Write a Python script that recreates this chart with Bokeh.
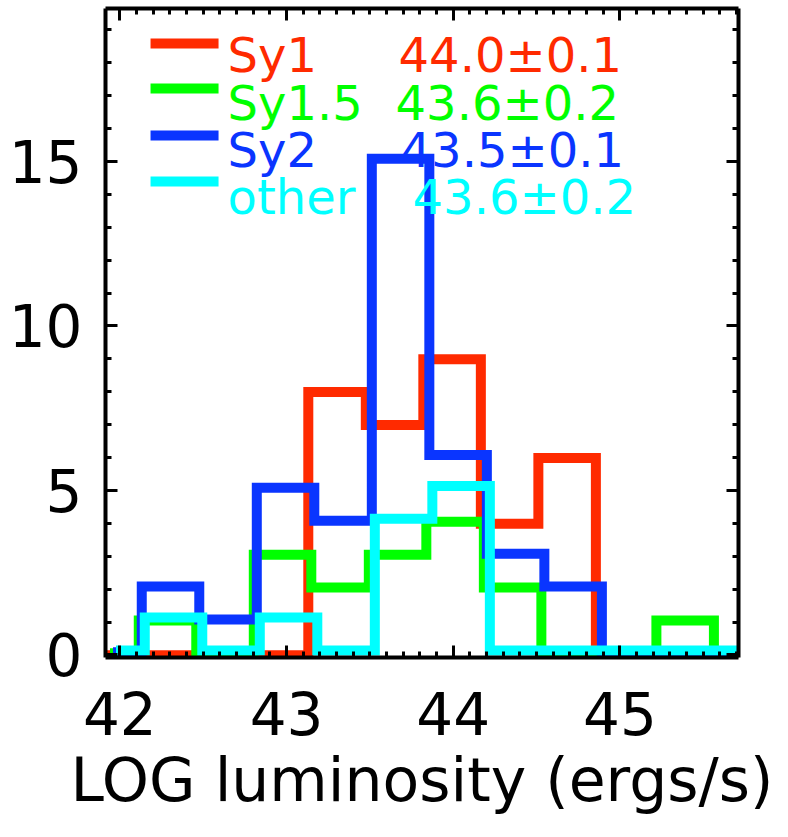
import numpy as np
from bokeh.plotting import figure
from bokeh.models import LinearAxis, FixedTicker, Range1d
from bokeh.core.properties import value
from bokeh.embed import file_html
from bokeh.resources import INLINE

# ---- data ----
bin_centers = [41.95, 42.295, 42.64, 42.985, 43.33, 43.675, 44.02, 44.365, 44.71, 45.055, 45.40, 45.745]
sy1_counts   = [0, 0, 0, 0, 8, 7, 9, 4, 6, 0, 0, 0]
sy15_counts  = [0, 1, 0, 3, 2, 3, 4, 2, 0, 0, 1, 0]
sy2_counts   = [0, 2, 1, 5, 4, 15, 6, 3, 2, 0, 0, 0]
other_counts = [0, 1, 0, 1, 0, 4, 5, 0, 0, 0, 0, 0]

series_names = ["Sy1", "Sy1.5", "Sy2", "other"]
series_stats = ["44.0\u00b10.1", "43.6\u00b10.2", "43.5\u00b10.1", "43.6\u00b10.2"]
x_ticks = [42, 43, 44, 45]
y_ticks = [0, 5, 10, 15]

# ---- styling ----
colors = ["#ff2a00", "#00ff00", "#0a35ff", "#00ffff"]
x_offsets = [-0.027, -0.009, 0.009, 0.027]   # small drawing offsets so lines don't hide each other
y_offsets = [-0.01, 0.05, 0.08, 0.14]
FONT = "DejaVu Sans"

p = figure(width=788, height=837, output_backend="svg", toolbar_location=None,
           x_range=Range1d(41.914, 45.711), y_range=Range1d(-0.076, 19.65),
           min_border_left=105, min_border_right=50, min_border_top=8, min_border_bottom=180)
p.grid.visible = False
p.outline_line_color = None
p.background_fill_color = "white"
p.border_fill_color = "white"

xminor = [round(v, 1) for v in np.arange(41.9, 45.75, 0.1)]
yminor = list(range(0, 20))

def style(ax, ticks, minor, show_labels):
    ax.ticker = FixedTicker(ticks=ticks, minor_ticks=minor)
    ax.axis_line_width = 4
    ax.axis_line_color = "black"
    ax.major_tick_in = 12
    ax.major_tick_out = 0
    ax.minor_tick_in = 6
    ax.minor_tick_out = 0
    ax.major_tick_line_width = 3
    ax.minor_tick_line_width = 3
    ax.major_tick_line_color = "black"
    ax.minor_tick_line_color = "black"
    if show_labels:
        ax.major_label_text_font = FONT
        ax.major_label_text_font_size = "58px"
        ax.major_label_text_color = "black"
    else:
        ax.major_label_overrides = {t: "" for t in ticks}
        ax.major_label_text_font_size = "1px"
        ax.major_label_standoff = 0

xa = p.xaxis[0]
style(xa, x_ticks, xminor, True)
xa.major_label_standoff = 34
xa.axis_label = "LOG luminosity (ergs/s)"
xa.axis_label_text_font = FONT
xa.axis_label_text_font_size = "60px"
xa.axis_label_text_font_style = "normal"
xa.axis_label_text_color = "black"
xa.axis_label_standoff = 7

ya = p.yaxis[0]
style(ya, y_ticks, yminor, True)
ya.major_label_standoff = 23
ya.major_label_orientation = "horizontal"

top = LinearAxis()
style(top, x_ticks, xminor, False)
p.add_layout(top, "above")
right = LinearAxis()
style(right, y_ticks, yminor, False)
p.add_layout(right, "right")

# ---- histograms ----
all_counts = [sy1_counts, sy15_counts, sy2_counts, other_counts]
for counts, col, dx, dy in zip(all_counts, colors, x_offsets, y_offsets):
    xs = [c + dx for c in bin_centers]
    ys = [v + dy for v in counts]
    p.step(x=xs, y=ys, mode="center", line_color=col, line_width=10, line_join="miter")

# ---- legend (drawn like the original) ----
def px2x(px):
    return 44 + (px - 452.7) / 166.7

def py2y(py):
    return (654.5 - py) / 32.9

line_rows = [43, 88, 135, 181]
text_rows = [55, 103, 150, 197]
stat_lefts = [398, 395, 400, 412]
for i in range(4):
    yl = py2y(line_rows[i])
    p.line(x=[px2x(150), px2x(218)], y=[yl, yl], line_color=colors[i], line_width=10)
    yt = py2y(text_rows[i])
    p.text(x=[px2x(227)], y=[yt], text=[series_names[i]], text_color=colors[i],
           text_font=value(FONT), text_font_size="48px", text_baseline="alphabetic", text_align="left")
    p.text(x=[px2x(stat_lefts[i])], y=[yt], text=[series_stats[i]], text_color=colors[i],
           text_font=value(FONT), text_font_size="48px", text_baseline="alphabetic", text_align="left")

open("out.html", "w").write(file_html(p, INLINE))
